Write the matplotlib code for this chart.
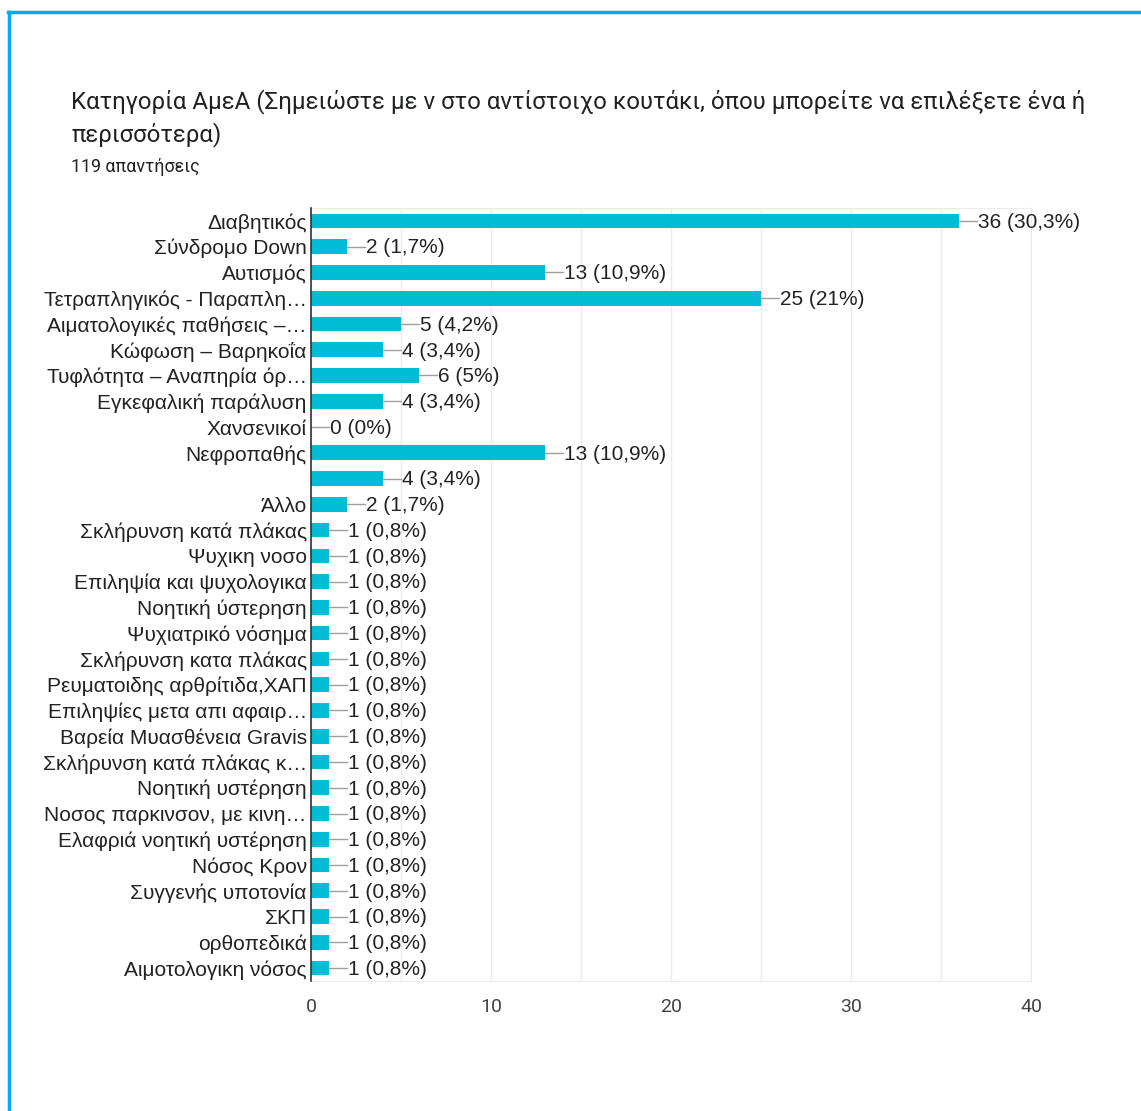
import matplotlib
matplotlib.use("Agg")
import matplotlib.pyplot as plt
from matplotlib.lines import Line2D

# categories as they appear in the form results (top to bottom)
labels = [
    "Διαβητικός",
    "Σύνδρομο Down",
    "Αυτισμός",
    "Τετραπληγικός - Παραπλη…",
    "Αιματολογικές παθήσεις –…",
    "Κώφωση – Βαρηκοΐα",
    "Τυφλότητα – Αναπηρία όρ…",
    "Εγκεφαλική παράλυση",
    "Χανσενικοί",
    "Νεφροπαθής",
    "",
    "Άλλο",
    "Σκλήρυνση κατά πλάκας",
    "Ψυχικη νοσο",
    "Επιληψία και ψυχολογικα",
    "Νοητική ύστερηση",
    "Ψυχιατρικό νόσημα",
    "Σκλήρυνση κατα πλάκας",
    "Ρευματοιδης αρθρίτιδα,ΧΑΠ",
    "Επιληψίες μετα απι αφαιρ…",
    "Βαρεία Μυασθένεια Gravis",
    "Σκλήρυνση κατά πλάκας κ…",
    "Νοητική υστέρηση",
    "Νοσος παρκινσον, με κινη…",
    "Ελαφριά νοητική υστέρηση",
    "Νόσος Κρον",
    "Συγγενής υποτονία",
    "ΣΚΠ",
    "ορθοπεδικά",
    "Αιμοτολογικη νόσος",
]
counts = [36, 2, 13, 25, 5, 4, 6, 4, 0, 13, 4, 2,
          1, 1, 1, 1, 1, 1, 1, 1, 1, 1, 1, 1, 1, 1, 1, 1, 1, 1]
percents = ["30,3%", "1,7%", "10,9%", "21%", "4,2%", "3,4%", "5%", "3,4%",
            "0%", "10,9%", "3,4%", "1,7%"] + ["0,8%"] * 18
total = 119

bar_color = "#00bcd4"
text_color = "#222222"
label_font = ["Liberation Sans", "DejaVu Sans"]

fig = plt.figure(figsize=(11.41, 11.11), dpi=100)
W, H = 1141, 1111

# card border (top and left edges)
fig.add_artist(Line2D([8 / W, 1], [1 - 12 / H, 1 - 12 / H], color="#03a9f4", lw=2.5))
fig.add_artist(Line2D([9 / W, 9 / W], [0, 1 - 12 / H], color="#03a9f4", lw=2.5))

fig.text(71 / W, 1 - 108 / H,
         "Κατηγορία ΑμεΑ (Σημειώστε με ν στο αντίστοιχο κουτάκι, όπου μπορείτε να επιλέξετε ένα ή",
         fontsize=17.3, family="Roboto", color="#202124", va="baseline")
fig.text(71 / W, 1 - 141 / H, "περισσότερα)",
         fontsize=17.3, family="Roboto", color="#202124", va="baseline")
fig.text(71 / W, 1 - 172 / H, f"{total} απαντήσεις",
         fontsize=12.9, family="Roboto", color="#202124", va="baseline")

ax = fig.add_axes([311 / W, 1 - 981 / H, 720 / W, 773 / H])
y = list(range(len(labels)))
ax.barh(y, counts, height=0.57, color=bar_color, zorder=3)

for i, (c, p) in enumerate(zip(counts, percents)):
    ax.plot([c, c + 1.0], [i, i], color="#9e9e9e", lw=1, zorder=3)
    ax.text(c + 1.05, i + 0.05, f"{c} ({p})", va="center", ha="left",
            fontsize=15, family=label_font, color=text_color, zorder=4)

ax.set_xlim(0, 40)
ax.set_ylim(len(labels) - 0.5, -0.5)
ax.set_yticks(y)
ax.set_yticklabels(labels, fontsize=15, family=label_font, color=text_color)
ax.set_xticks([0, 10, 20, 30, 40])
ax.set_xticklabels(["0", "10", "20", "30", "40"], fontsize=14,
                   family="Roboto", color="#444444")
ax.set_xticks(range(0, 41, 5), minor=True)
ax.tick_params(axis="y", length=0, pad=3)
ax.tick_params(axis="x", length=0, pad=12)
ax.tick_params(axis="x", which="minor", length=0)
ax.grid(axis="x", which="both", color="#ebebeb", lw=1, zorder=0)

for side in ["top", "right", "bottom"]:
    ax.spines[side].set_color("#ebebeb")
ax.spines["left"].set_color("#333333")
ax.spines["left"].set_linewidth(1.2)
ax.spines["left"].set_zorder(5)

fig.savefig("out.png", dpi=100)
